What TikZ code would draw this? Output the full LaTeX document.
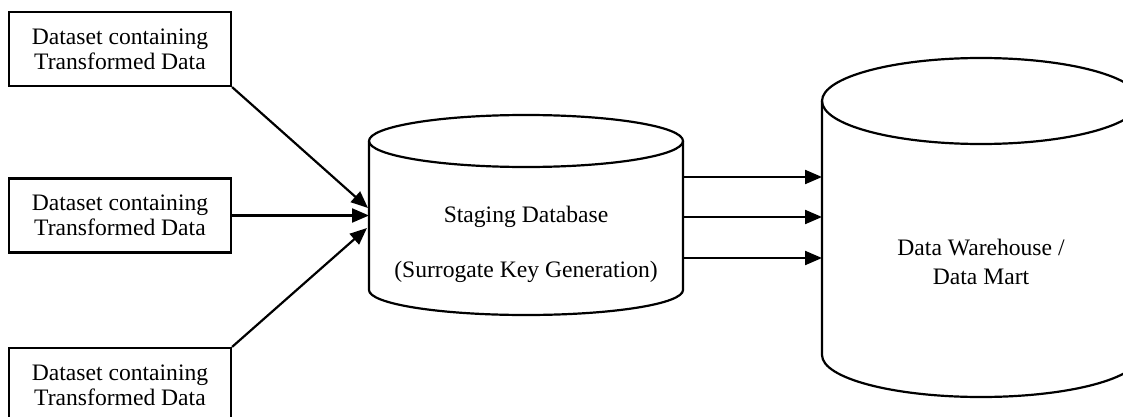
\documentclass[tikz,border=0pt]{standalone}
\usepackage{fontspec}
\setmainfont{Liberation Serif}
\usetikzlibrary{arrows.meta,calc}

\begin{document}
\begin{tikzpicture}[x=1pt,y=-1pt,
  line width=2.2pt,
  txt/.style={font=\fontsize{23.6}{25}\selectfont},
  srcbox/.style={draw, txt, minimum width=222pt, minimum height=74pt,
                 inner sep=0pt, align=center},
  body/.style={inner sep=0pt, outer sep=0pt},
  flow/.style={-{Triangle[length=17pt,width=14pt]}, line width=2.2pt}]
\useasboundingbox (0,0) rectangle (1123,417);

% source datasets
\node[srcbox] (d1) at (120,49)    {Dataset containing\\Transformed Data};
\node[srcbox] (d2) at (120,215.5) {Dataset containing\\Transformed Data};
\node[srcbox, minimum height=75pt] (d3) at (120,385.5) {Dataset containing\\Transformed Data};

% staging database cylinder
\node[body, minimum width=314pt, minimum height=149pt] (stage) at (526,215.5) {};
\draw (stage.north west) -- (stage.south west)
      arc[start angle=180, end angle=0, x radius=157, y radius=25]
      -- (stage.north east);
\draw (stage.north) ellipse [x radius=157, y radius=26];
\node[txt, anchor=base] (stagename) at (526,222) {Staging Database};
\node[txt, anchor=base] (stagekey)  at (526,277) {(Surrogate Key Generation)};

% data warehouse cylinder
\node[body, minimum width=318pt, minimum height=254pt] (dw) at (981,228) {};
\draw (dw.north west) -- (dw.south west)
      arc[start angle=180, end angle=0, x radius=159, y radius=42]
      -- (dw.north east);
\draw (dw.north) ellipse [x radius=159, y radius=43];
\node[txt, anchor=base] (dwname) at (981,255) {Data Warehouse /};
\node[txt, anchor=base] (dwmart) at (981,284) {Data Mart};

% inputs into staging
\coordinate (in1) at ($(stage.west)+(-1,-7.5)$);
\coordinate (in3) at ($(stage.west)+(-2,12.5)$);
\draw[flow] (d1.south east) -- (in1);
\draw[flow] (d2.east) -- (d2.east -| stage.west);
\draw[flow] (d3.north east) -- (in3);

% loads into the warehouse
\coordinate (o1) at ($(stage.east)+(0,-38.5)$);
\coordinate (o2) at ($(stage.east)+(0,1.5)$);
\coordinate (o3) at ($(stage.east)+(0,42.5)$);
\draw[flow] (o1) -- (o1 -| dw.west);
\draw[flow] (o2) -- (o2 -| dw.west);
\draw[flow] (o3) -- (o3 -| dw.west);
\end{tikzpicture}
\end{document}
